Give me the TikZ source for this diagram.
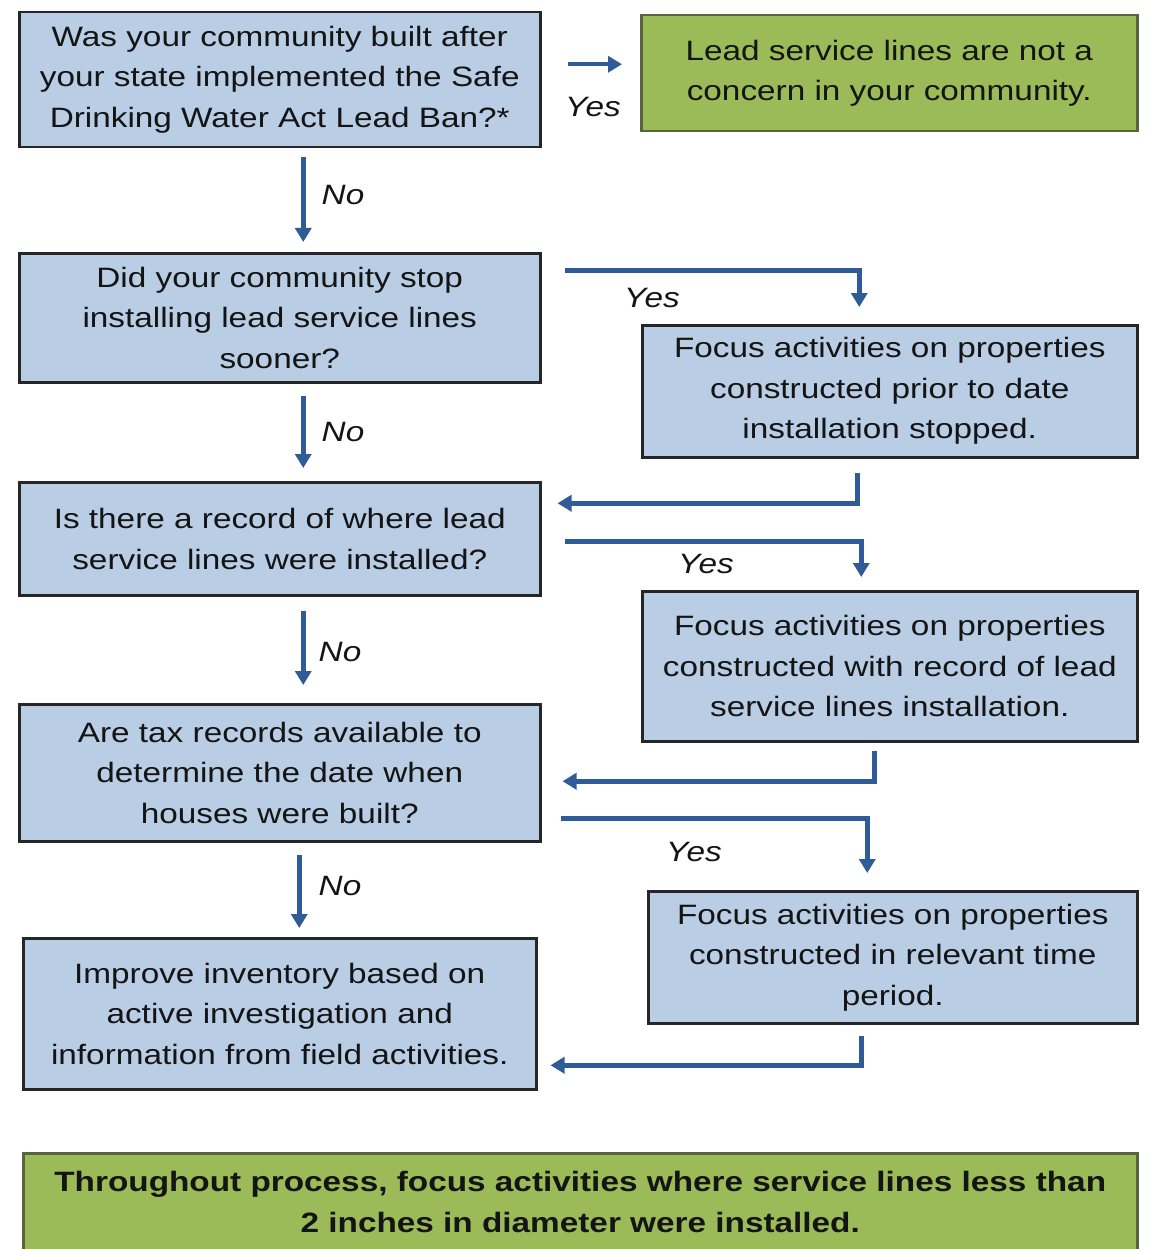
\documentclass[tikz,border=0pt]{standalone}
\usepackage{fontspec}
\setmainfont{Liberation Sans}[FakeStretch=1.19]
\usetikzlibrary{calc,arrows.meta}
\definecolor{boxblue}{RGB}{185,205,229}
\definecolor{boxgreen}{RGB}{155,187,89}
\definecolor{arrowblue}{RGB}{47,92,152}
\definecolor{greenborder}{RGB}{88,100,60}
\definecolor{txt}{RGB}{20,20,20}
\begin{document}
\begin{tikzpicture}[x=1pt,y=-1pt,
  qbox/.style={draw=black!85, line width=2.5pt, fill=boxblue, anchor=north west,
    inner sep=0pt, align=center, text=txt, font=\fontsize{28}{40.5}\selectfont},
  gbox/.style={qbox, draw=greenborder, fill=boxgreen},
  arr/.style={draw=arrowblue, line width=4.5pt, -{Triangle[width=16pt,length=14pt]}},
  lbl/.style={font=\fontsize{28}{32}\selectfont\itshape, text=txt, inner sep=0pt}
]
\useasboundingbox (0,0) rectangle (1153,1249);
% nodes
\node[qbox, minimum width=521pt, minimum height=135pt] (Q1) at (18,11)
  {Was your community built after\\your state implemented the Safe\\Drinking Water Act Lead Ban?*};
\node[gbox, minimum width=496pt, minimum height=116pt] (G1) at (640,14)
  {Lead service lines are not a\\concern in your community.};
\node[qbox, minimum width=521pt, minimum height=129pt] (Q2) at (18,252)
  {Did your community stop\\installing lead service lines\\sooner?};
\node[qbox, minimum width=495pt, minimum height=132pt] (A2) at (641,324)
  {Focus activities on properties\\constructed prior to date\\installation stopped.};
\node[qbox, minimum width=521pt, minimum height=113pt] (Q3) at (18,481)
  {Is there a record of where lead\\service lines were installed?};
\node[qbox, minimum width=495pt, minimum height=150pt] (A3) at (641,590)
  {Focus activities on properties\\constructed with record of lead\\service lines installation.};
\node[qbox, minimum width=521pt, minimum height=137pt] (Q4) at (18,703)
  {Are tax records available to\\determine the date when\\houses were built?};
\node[qbox, minimum width=489pt, minimum height=132pt] (A4) at (647,890)
  {Focus activities on properties\\constructed in relevant time\\period.};
\node[qbox, minimum width=513pt, minimum height=151pt] (F) at (22,937)
  {Improve inventory based on\\active investigation and\\information from field activities.};
\node[gbox, minimum width=1114pt, minimum height=97pt, font=\fontsize{28}{40.5}\selectfont\bfseries] (B) at (22,1152)
  {Throughout process, focus activities where service lines less than\\2 inches in diameter were installed.};
% connectors
\draw[arr] ($(Q1.east)+(26,-15.5)$) -- ($(G1.west)+(-18,-9)$);
\node[lbl] (y1) at (593,107) {Yes};
\draw[arr] ($(Q1.south)+(23.5,9)$) -- ($(Q2.north)+(23.5,-10)$);
\node[lbl] (n1) at (343,195) {No};
\draw[arr] ($(Q2.east)+(23,-47.5)$) -| ($(A2.north)+(-30.5,-17)$);
\node[lbl] (y2) at (652,298) {Yes};
\draw[arr] ($(Q2.south)+(23.5,12)$) -- ($(Q3.north)+(23.5,-13)$);
\node[lbl] (n2) at (343,432) {No};
\draw[arr] ($(A2.south)+(-32.5,14)$) |- ($(Q3.east)+(16,-35.5)$);
\draw[arr] ($(Q3.east)+(23,2.5)$) -| ($(A3.north)+(-28.5,-13)$);
\node[lbl] (y3) at (706,564) {Yes};
\draw[arr] ($(Q3.south)+(23.5,14)$) -- ($(Q4.north)+(23.5,-18)$);
\node[lbl] (n3) at (340,652) {No};
\draw[arr] ($(A3.south)+(-15.5,8)$) |- ($(Q4.east)+(21,8.5)$);
\draw[arr] ($(Q4.east)+(19,45.5)$) -| ($(A4.north)+(-25.5,-17)$);
\node[lbl] (y4) at (694,852) {Yes};
\draw[arr] ($(Q4.south)+(19.5,12)$) -- ($(F.north)+(19.5,-9)$);
\node[lbl] (n4) at (340,886) {No};
\draw[arr] ($(A4.south)+(-31.5,11)$) |- ($(F.east)+(13,51.5)$);
\end{tikzpicture}
\end{document}
